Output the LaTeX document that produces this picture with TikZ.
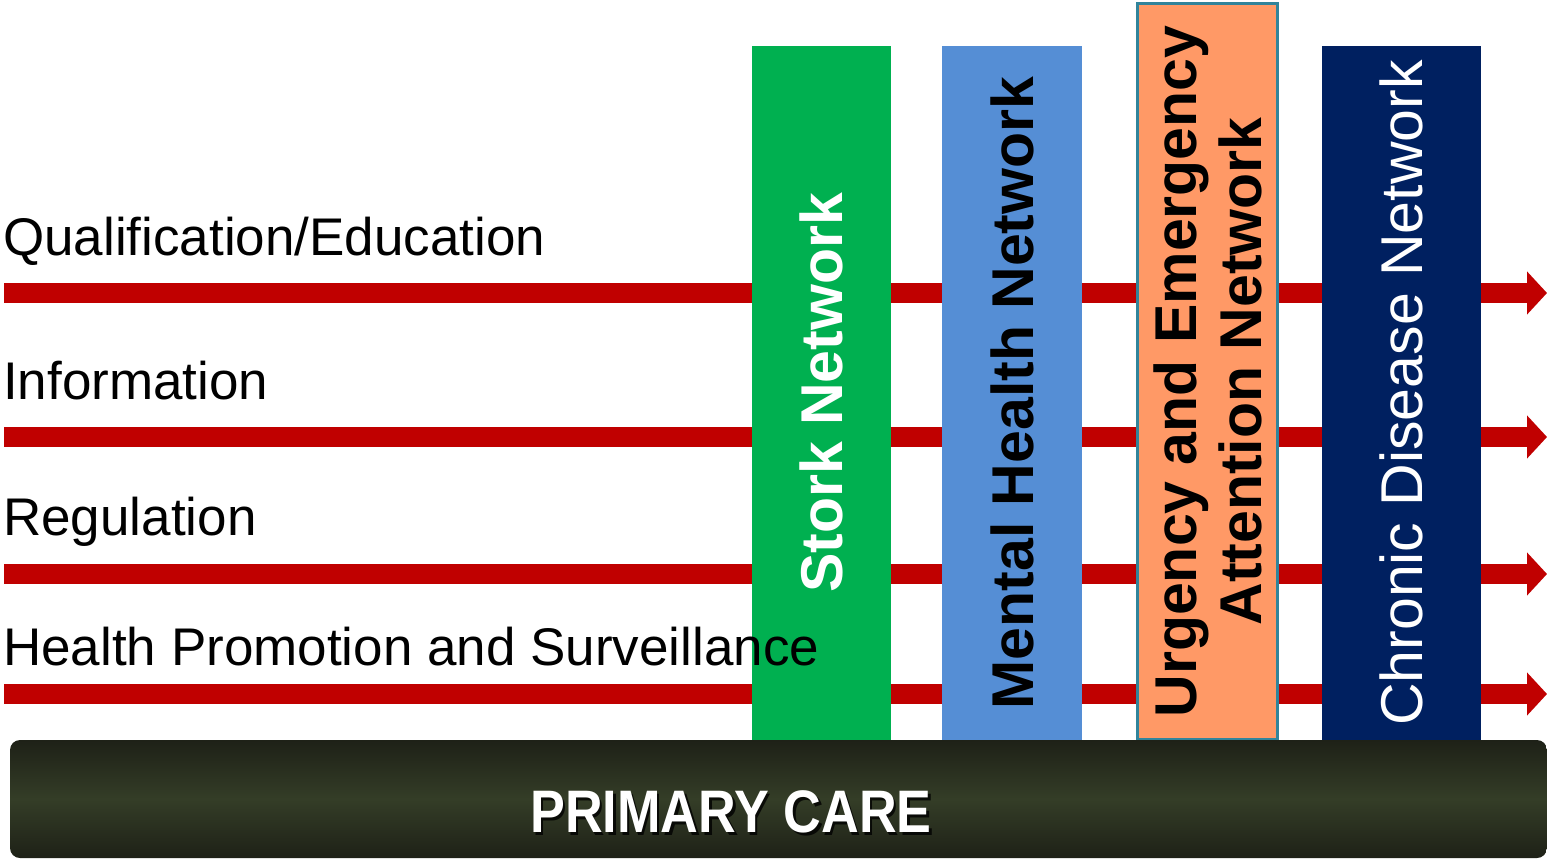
\documentclass[tikz,border=0pt]{standalone}
\usepackage{fontspec}
\setmainfont{Liberation Sans}
\usetikzlibrary{arrows.meta}

\definecolor{flowred}{HTML}{C00000}
\definecolor{storkgreen}{HTML}{00B050}
\definecolor{mentalblue}{HTML}{558ED5}
\definecolor{urgorange}{HTML}{FF9966}
\definecolor{urgedge}{HTML}{31849B}
\definecolor{chronavy}{HTML}{002060}
\definecolor{careedge}{HTML}{1E2117}
\definecolor{caremid}{HTML}{343D27}

\tikzset{
  flowarrow/.style={draw=flowred, line width=20pt, line cap=butt,
    -{Triangle[width=42pt,length=20pt]}},
  rowlabel/.style={anchor=base west, inner sep=0pt, text=black,
    font=\fontsize{53}{58}\selectfont},
  netbox/.style={rotate=90, inner sep=0pt, draw=none, align=center,
    font=\bfseries\fontsize{59}{65}\selectfont},
  carebar/.style={rounded corners=10pt, top color=careedge, bottom color=careedge,
    middle color=caremid},
  caretext/.style={inner sep=0pt, font=\bfseries\fontsize{60}{60}\selectfont}
}

\begin{document}
\begin{tikzpicture}[x=1pt,y=-1pt]
  \useasboundingbox (0,0) rectangle (1547,859);

  % horizontal flows
  \coordinate (qs) at (4,293);   \coordinate (qe) at (1547,293);
  \coordinate (is) at (4,437);   \coordinate (ie) at (1547,437);
  \coordinate (rs) at (4,574);   \coordinate (re) at (1547,574);
  \coordinate (hs) at (4,694);   \coordinate (he) at (1547,694);
  \draw[flowarrow] (qs) -- (qe);
  \draw[flowarrow] (is) -- (ie);
  \draw[flowarrow] (rs) -- (re);
  \draw[flowarrow] (hs) -- (he);

  % network columns
  \node[netbox, fill=storkgreen, text=white, minimum width=694pt, minimum height=139pt]
    (stork) at (821.5,393) {Stork Network};
  \node[netbox, fill=mentalblue, text=black, minimum width=694pt, minimum height=140pt]
    (mental) at (1012,393) {Mental Health Network};
  \node[netbox, fill=urgorange, draw=urgedge, line width=3pt, text=black,
    minimum width=735pt, minimum height=140pt]
    (urgency) at (1207.5,371.5) {Urgency and Emergency\\Attention Network};
  \node[netbox, fill=chronavy, text=white, font=\fontsize{59}{65}\selectfont,
    minimum width=694pt, minimum height=159pt]
    (chronic) at (1401.5,393) {Chronic Disease Network};

  % row labels
  \node[rowlabel] (lqual) at (3,255) {Qualification/Education};
  \node[rowlabel] (linfo) at (3,399) {Information};
  \node[rowlabel] (lreg)  at (3,535) {Regulation};
  \node[rowlabel] (lhealth) at (3,665) {Health Promotion and Surveillance};

  % base bar
  \path[carebar] (10,740) rectangle (1547,858);
  \node[caretext, text=black, opacity=0.8] (careshadow) at (733.5,814.5)
    {\scalebox{0.87}[1]{PRIMARY CARE}};
  \node[caretext, text=white] (care) at (731,812)
    {\scalebox{0.87}[1]{PRIMARY CARE}};
\end{tikzpicture}
\end{document}
